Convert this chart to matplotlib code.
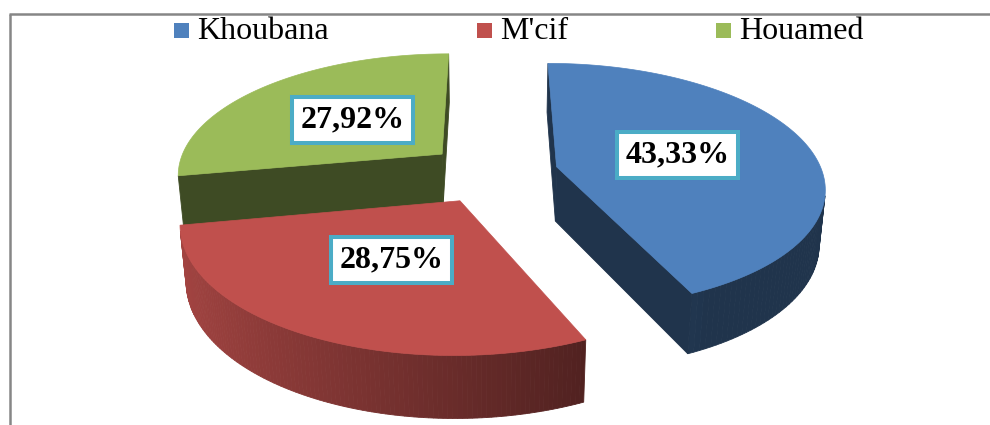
import numpy as np
import matplotlib.pyplot as plt
from matplotlib.patches import Polygon, Rectangle
from matplotlib.colors import to_rgb

# chart data
categories = ["Khoubana", "M'cif", "Houamed"]
shares = [43.33, 28.75, 27.92]
slice_colors = ["#4F81BD", "#C0504D", "#9BBB59"]

# 3d view settings (pixel space of the 990x425 image)
CX, CY = 492, 173
SCALE = 266
TILT = np.radians(27.1)
DIST = 5.75
EXPLODE = 0.25
DEPTH = 0.235
LABEL_RADIUS = 0.48

camera = np.array([0.0, -DIST * np.cos(TILT), DIST * np.sin(TILT)])


# perspective projection of a point of the pie onto the image
def project(x, y, z):
    v = y * np.sin(TILT) + z * np.cos(TILT)
    w = y * np.cos(TILT) - z * np.sin(TILT)
    f = 1 / (1 + w / DIST)
    return CX + SCALE * x * f, CY - SCALE * v * f


# true if the face with this outward normal can be seen
def faces_camera(normal, point):
    return np.dot(normal, camera - np.array(point)) > 0


def shade(color, k):
    return tuple(np.array(to_rgb(color)) * k)


fig = plt.figure(figsize=(9.9, 4.25), dpi=100)
ax = fig.add_axes([0, 0, 1, 1])
ax.set_xlim(0, 990)
ax.set_ylim(425, 0)
ax.axis("off")

total = sum(shares)
edges = np.concatenate([[0], np.cumsum(shares) / total * 360])

slices = []
for i in range(len(shares)):
    t1 = np.radians(edges[i])
    t2 = np.radians(edges[i + 1])
    mid = (t1 + t2) / 2
    ox = EXPLODE * np.sin(mid)
    oy = EXPLODE * np.cos(mid)
    slices.append((oy, i, t1, t2, mid, ox))

# draw the far slices first
slices.sort(reverse=True)

for oy, i, t1, t2, mid, ox in slices:
    color = slice_colors[i]
    thetas = np.linspace(t1, t2, 120)

    # outer curved wall
    for a, b in zip(thetas[:-1], thetas[1:]):
        m = (a + b) / 2
        normal = (np.sin(m), np.cos(m), 0)
        point = (ox + np.sin(m), oy + np.cos(m), -DEPTH / 2)
        if not faces_camera(normal, point):
            continue
        quad = [
            project(ox + np.sin(a), oy + np.cos(a), 0),
            project(ox + np.sin(b), oy + np.cos(b), 0),
            project(ox + np.sin(b), oy + np.cos(b), -DEPTH),
            project(ox + np.sin(a), oy + np.cos(a), -DEPTH),
        ]
        k = max(0.40, 0.546 - 0.31 * np.sin(m))
        c = shade(color, k)
        ax.add_patch(Polygon(quad, closed=True, fc=c, ec=c, lw=0.6))

    # flat cut faces
    for t, normal in [(t1, (-np.cos(t1), np.sin(t1), 0)), (t2, (np.cos(t2), -np.sin(t2), 0))]:
        point = (ox + 0.5 * np.sin(t), oy + 0.5 * np.cos(t), -DEPTH / 2)
        if not faces_camera(normal, point):
            continue
        quad = [
            project(ox, oy, 0),
            project(ox + np.sin(t), oy + np.cos(t), 0),
            project(ox + np.sin(t), oy + np.cos(t), -DEPTH),
            project(ox, oy, -DEPTH),
        ]
        c = shade(color, 0.40)
        ax.add_patch(Polygon(quad, closed=True, fc=c, ec=c, lw=0.6))

    # top face
    top = [project(ox, oy, 0)]
    top += [project(ox + np.sin(t), oy + np.cos(t), 0) for t in thetas]
    ax.add_patch(Polygon(top, closed=True, fc=color, ec=color, lw=0.5))

    # value label in a boxed frame
    lx, ly = project(ox + LABEL_RADIUS * np.sin(mid), oy + LABEL_RADIUS * np.cos(mid), 0)
    ax.add_patch(Rectangle((lx - 60.5, ly - 23), 121, 46, fc="white",
                           ec="#4BACC6", lw=2.9, zorder=5))
    label = f"{shares[i]:.2f}".replace(".", ",") + "%"
    ax.text(lx, ly, label, ha="center", va="center", fontsize=23,
            fontweight="bold", family="Liberation Serif", zorder=6)

# legend across the top
legend_x = [174, 477, 716]
for x, name, color in zip(legend_x, categories, slice_colors):
    ax.add_patch(Rectangle((x, 23), 15, 15, fc=color, lw=0))
    ax.text(x + 23, 31, name, ha="left", va="center", fontsize=23,
            family="Liberation Serif")

# frame of the chart area (cut off on the right and bottom)
ax.plot([9, 990], [14, 14], color="#868686", lw=1.8, solid_capstyle="butt")
ax.plot([10, 10], [14, 425], color="#868686", lw=1.8, solid_capstyle="butt")

plt.savefig("out.png", dpi=100)
